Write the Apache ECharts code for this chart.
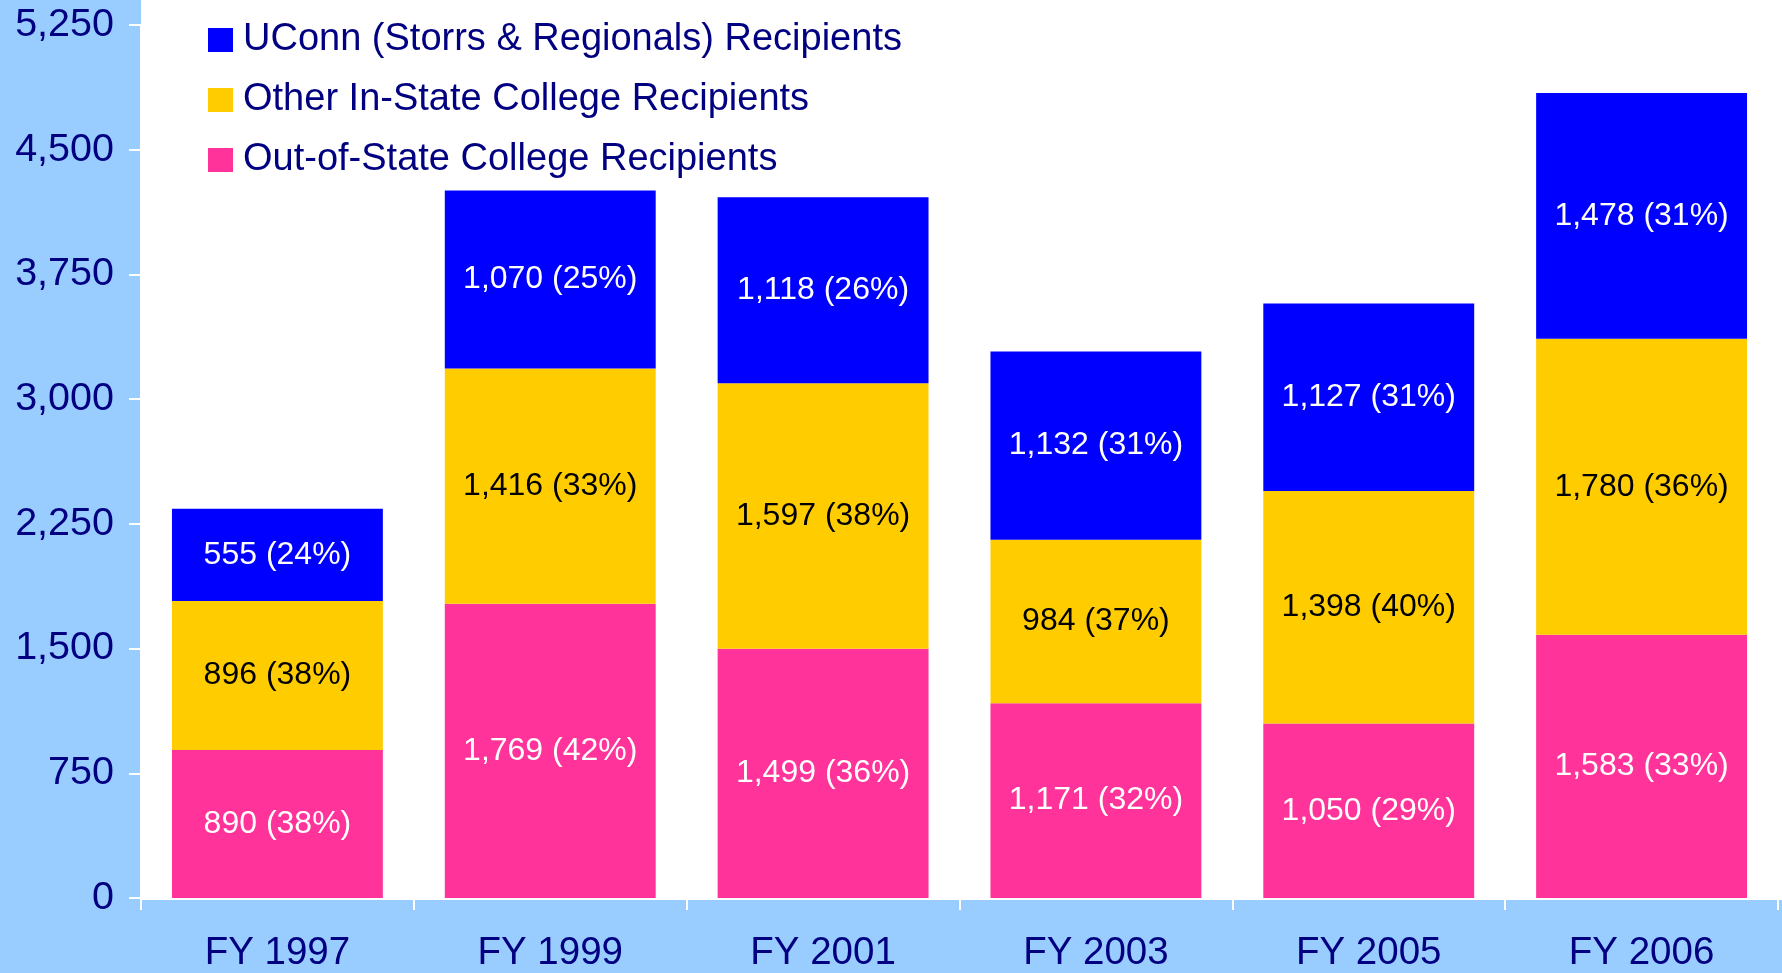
<!DOCTYPE html>
<html>
<head>
<meta charset="utf-8">
<script src="https://cdn.jsdelivr.net/npm/echarts@6/dist/echarts.min.js"></script>
<style>
html,body{margin:0;padding:0;background:#99ccff;}
#main{width:1782px;height:973px;}
</style>
</head>
<body>
<div id="main"></div>
<script>
// 数据
var categories = ['FY 1997', 'FY 1999', 'FY 2001', 'FY 2003', 'FY 2005', 'FY 2006'];
var outOfState = [890, 1769, 1499, 1171, 1050, 1583];
var outOfStatePct = [38, 42, 36, 32, 29, 33];
var otherInState = [896, 1416, 1597, 984, 1398, 1780];
var otherInStatePct = [38, 33, 38, 37, 40, 36];
var uconn = [555, 1070, 1118, 1132, 1127, 1478];
var uconnPct = [24, 25, 26, 31, 31, 31];
var yTicks = [0, 750, 1500, 2250, 3000, 3750, 4500, 5250];

var navy = '#000080';
var font = 'Liberation Sans, Arial, sans-serif';

function fmt(values, pcts) {
    return function (p) {
        return values[p.dataIndex].toLocaleString('en-US') + ' (' + pcts[p.dataIndex] + '%)';
    };
}

function makeSeries(name, values, pcts, color, labelColor) {
    return {
        name: name,
        type: 'bar',
        stack: 'total',
        barCategoryGap: '22.7%',
        data: values,
        itemStyle: {color: color},
        label: {
            show: true,
            position: 'inside',
            color: labelColor,
            fontSize: 32,
            fontFamily: font,
            formatter: fmt(values, pcts)
        }
    };
}

var myChart = echarts.init(document.getElementById('main'));

var option = {
    backgroundColor: '#99ccff',
    animation: false,
    // 白色绘图区
    graphic: [{
        type: 'rect',
        z: -10,
        shape: {x: 141, y: 0, width: 1641, height: 900},
        style: {fill: '#ffffff'}
    }],
    grid: {left: 141, right: 4, top: 25, bottom: 73},
    legend: {
        orient: 'vertical',
        left: 203,
        top: 15,
        itemWidth: 25,
        itemHeight: 24,
        itemGap: 20,
        icon: 'rect',
        data: ['UConn (Storrs & Regionals) Recipients', 'Other In-State College Recipients', 'Out-of-State College Recipients'],
        textStyle: {
            color: navy,
            fontSize: 38,
            lineHeight: 40,
            fontFamily: font,
            padding: [0, 0, 0, 5]
        }
    },
    xAxis: {
        type: 'category',
        data: categories,
        axisLine: {lineStyle: {color: '#ffffff', width: 2}},
        axisTick: {show: true, length: 12, lineStyle: {color: '#ffffff', width: 2}},
        axisLabel: {
            color: navy,
            fontSize: 38.5,
            margin: 36,
            fontFamily: font
        }
    },
    yAxis: {
        type: 'value',
        min: yTicks[0],
        max: yTicks[yTicks.length - 1],
        interval: 750,
        splitLine: {show: false},
        axisLine: {show: true, lineStyle: {color: '#ffffff', width: 2}},
        axisTick: {show: true, length: 12, lineStyle: {color: '#ffffff', width: 2}},
        axisLabel: {
            color: navy,
            fontSize: 39.5,
            margin: 27,
            fontFamily: font,
            formatter: function (v) { return v.toLocaleString('en-US'); }
        }
    },
    series: [
        makeSeries('Out-of-State College Recipients', outOfState, outOfStatePct, '#ff3399', '#ffffff'),
        makeSeries('Other In-State College Recipients', otherInState, otherInStatePct, '#ffcc00', '#000000'),
        makeSeries('UConn (Storrs & Regionals) Recipients', uconn, uconnPct, '#0000ff', '#ffffff')
    ]
};

myChart.setOption(option);
</script>
</body>
</html>
